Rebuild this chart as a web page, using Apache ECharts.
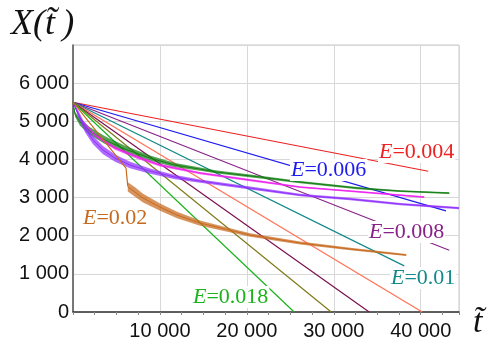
<!DOCTYPE html>
<html>
<head>
<meta charset="utf-8">
<script src="https://cdn.jsdelivr.net/npm/echarts@6/dist/echarts.min.js"></script>
<style>
  html, body { margin: 0; padding: 0; background: #fff; }
  #chart { width: 487px; height: 342px; }
</style>
</head>
<body>
<div id="chart"></div>
<script>
// straight decay lines, all start at (0, 5500)
const startT = 0;
const startX = 5500;
const lineNames = ["0.004", "0.006", "0.008", "0.01", "0.012", "0.014", "0.016", "0.018"];
const lineEndT = [40860, 42900, 43280, 38100, 40170, 34070, 29700, 25440];
const lineEndX = [3690, 2650, 1620, 1210, 0, 0, 0, 0];
const lineColors = ["#ee2222", "#1c1cf0", "#882288", "#138a8a", "#ff7055", "#7b1050", "#7f7a1a", "#1bb31b"];

// oscillating curves: centre values and half-width of the zigzag band
const greenT = [0, 230, 806, 1957, 3683, 5985, 8863, 11740, 14618, 16574, 21524, 26128, 32688, 37638, 43278];
const greenX = [5500, 5188, 4978, 4742, 4506, 4271, 4035, 3851, 3746, 3668, 3537, 3406, 3249, 3170, 3118];
const greenAmp = [0, 60, 95, 100, 100, 90, 70, 55, 45, 40, 35, 30, 28, 25, 22];

const magentaT = [0, 806, 2532, 4834, 7366, 10014, 14618, 20373, 26128, 31883, 40400];
const magentaX = [5500, 5083, 4637, 4297, 4061, 3851, 3642, 3458, 3275, 3170, 3013];
const magentaAmp = [0, 25, 35, 40, 40, 35, 30, 28, 25, 22, 22];

const violetT = [0, 575, 1381, 2302, 3453, 4834, 6561, 8863, 11740, 14618, 20373, 26128, 31883, 37638, 44400];
const violetX = [5500, 5214, 4821, 4506, 4244, 4035, 3851, 3694, 3537, 3432, 3249, 3065, 2961, 2830, 2725];
const violetAmp = [0, 90, 110, 110, 105, 95, 85, 70, 55, 45, 38, 33, 32, 30, 28];

// E=0.02: straight start, sudden drop, then oscillating tail
const brownHeadT = [0, 6100, 6300];
const brownHeadX = [5500, 3770, 3300];
const brownT = [6300, 7136, 8057, 10014, 11970, 14618, 17495, 20373, 26128, 31883, 38328];
const brownX = [3280, 3144, 2987, 2751, 2541, 2332, 2175, 2017, 1808, 1651, 1493];
const brownAmp = [120, 125, 115, 95, 85, 70, 55, 45, 38, 32, 28];

const yTicks = [0, 1000, 2000, 3000, 4000, 5000, 6000];
const xTicks = [10000, 20000, 30000, 40000];

const fmt = v => String(v).replace(/\B(?=(\d{3})+(?!\d))/g, " ");

const chart = echarts.init(document.getElementById("chart"));

const series = [];
lineNames.forEach((name, i) => {
  series.push({
    name: "E=" + name,
    type: "line",
    showSymbol: false,
    silent: true,
    data: [[startT, startX], [lineEndT[i], lineEndX[i]]],
    lineStyle: { width: 1.2, color: lineColors[i] },
    z: 2
  });
});

// zigzag drawn as a filled band between centre-amp and centre+amp
function band(ts, xs, amps, color) {
  series.push({
    type: "custom",
    silent: true,
    clip: true,
    data: [[ts[0], xs[0]]],
    renderItem: (params, api) => {
      const upper = ts.map((t, i) => api.coord([t, xs[i] + amps[i]]));
      const lower = ts.map((t, i) => api.coord([t, xs[i] - amps[i]])).reverse();
      return {
        type: "group",
        children: [
          {
            type: "polygon",
            shape: { points: upper.concat(lower) },
            style: { fill: color, opacity: 0.72 }
          },
          {
            type: "polyline",
            shape: { points: ts.map((t, i) => api.coord([t, xs[i]])) },
            style: { stroke: color, lineWidth: 1, fill: null }
          }
        ]
      };
    },
    z: 3
  });
}

series.push({
  type: "line",
  showSymbol: false,
  silent: true,
  data: brownHeadT.map((t, i) => [t, brownHeadX[i]]),
  lineStyle: { width: 1.2, color: "#c86a1e" },
  z: 3
});
band(brownT, brownX, brownAmp, "#c86a1e");
band(greenT, greenX, greenAmp, "#138013");
band(magentaT, magentaX, magentaAmp, "#ee22ee");
band(violetT, violetX, violetAmp, "#9030ff");

const serif = "'Liberation Serif', 'DejaVu Serif', serif";
function eLabel(text, x, y, color) {
  return {
    type: "text",
    x: x, y: y,
    z: 100,
    style: {
      text: "{i|E}=" + text,
      rich: { i: { fontStyle: "italic", fontFamily: serif, fontSize: 22, fill: color } },
      fontFamily: serif,
      fontSize: 22,
      fill: color,
      verticalAlign: "middle",
      backgroundColor: "#fff",
      padding: [0, 1]
    }
  };
}

chart.setOption({
  animation: false,
  backgroundColor: "#fff",
  grid: { left: 73, right: 28, top: 45, bottom: 30, show: true, borderColor: "#c8c8c8", borderWidth: 1 },
  xAxis: {
    type: "value",
    min: 0,
    max: 44400,
    interval: 10000,
    axisLine: { lineStyle: { color: "#333", width: 1.5 } },
    axisTick: { show: true, length: 3, lineStyle: { color: "#888" } },
    minorTick: { show: true, splitNumber: 4, length: 3, lineStyle: { color: "#888" } },
    splitLine: { show: true, lineStyle: { color: "#d8d8d8" } },
    axisLabel: {
      color: "#111",
      fontSize: 20,
      fontFamily: "'Liberation Sans', Arial, sans-serif",
      margin: 9,
      formatter: v => (xTicks.includes(v) ? fmt(v) : "")
    }
  },
  yAxis: {
    type: "value",
    min: 0,
    max: 7000,
    interval: 1000,
    axisLine: { show: true, lineStyle: { color: "#555", width: 1.5 } },
    axisTick: { show: false },
    splitLine: { show: true, lineStyle: { color: "#d8d8d8" } },
    axisLabel: {
      color: "#111",
      fontSize: 20,
      fontFamily: "'Liberation Sans', Arial, sans-serif",
      margin: 4,
      formatter: v => (yTicks.includes(v) ? fmt(v) : "")
    }
  },
  graphic: [
    {
      type: "text", x: 11, y: 25, z: 100,
      style: { text: "X(t\u0303\u2009)", fontFamily: serif, fontStyle: "italic", fontSize: 36, fill: "#111", verticalAlign: "middle" }
    },
    {
      type: "text", x: 473, y: 323, z: 100,
      style: { text: "t\u0303", fontFamily: serif, fontStyle: "italic", fontSize: 34, fill: "#111", verticalAlign: "middle" }
    },
    eLabel("0.004", 378, 152, "#ee2222"),
    eLabel("0.006", 290, 170, "#1c1cf0"),
    eLabel("0.008", 368, 232, "#882288"),
    eLabel("0.01", 390, 278, "#138a8a"),
    eLabel("0.018", 192, 297, "#1bb31b"),
    eLabel("0.02", 82, 218, "#c86a1e")
  ],
  series: series
});
</script>
</body>
</html>
